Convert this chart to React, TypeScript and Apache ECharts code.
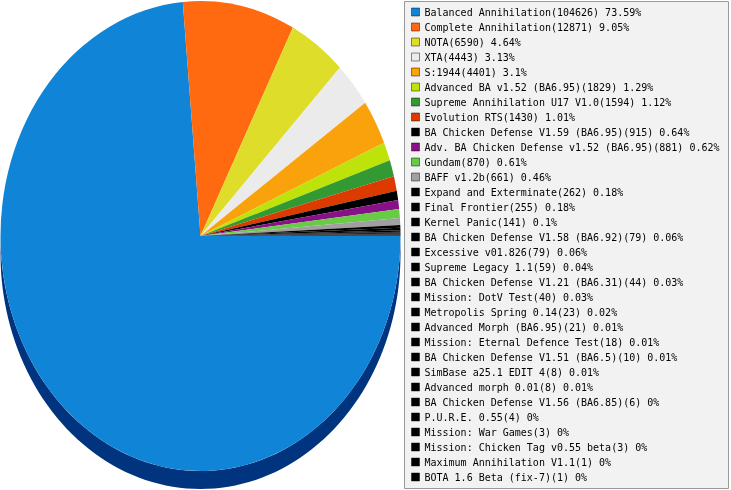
import React, { useEffect, useRef } from "react";
import * as echarts from "echarts";

const names = [
  "Balanced Annihilation",
  "Complete Annihilation",
  "NOTA",
  "XTA",
  "S:1944",
  "Advanced BA v1.52 (BA6.95)",
  "Supreme Annihilation U17 V1.0",
  "Evolution RTS",
  "BA Chicken Defense V1.59 (BA6.95)",
  "Adv. BA Chicken Defense v1.52 (BA6.95)",
  "Gundam",
  "BAFF v1.2b",
  "Expand and Exterminate",
  "Final Frontier",
  "Kernel Panic",
  "BA Chicken Defense V1.58 (BA6.92)",
  "Excessive v01.826",
  "Supreme Legacy 1.1",
  "BA Chicken Defense V1.21 (BA6.31)",
  "Mission: DotV Test",
  "Metropolis Spring 0.14",
  "Advanced Morph (BA6.95)",
  "Mission: Eternal Defence Test",
  "BA Chicken Defense V1.51 (BA6.5)",
  "SimBase a25.1 EDIT 4",
  "Advanced morph 0.01",
  "BA Chicken Defense V1.56 (BA6.85)",
  "P.U.R.E. 0.55",
  "Mission: War Games",
  "Mission: Chicken Tag v0.55 beta",
  "Maximum Annihilation V1.1",
  "BOTA 1.6 Beta (fix-7)",
];

const values = [
  104626, 12871, 6590, 4443, 4401, 1829, 1594, 1430, 915, 881, 870, 661, 262,
  255, 141, 79, 79, 59, 44, 40, 23, 21, 18, 10, 8, 8, 6, 4, 3, 3, 1, 1,
];

const pctLabels = [
  "73.59", "9.05", "4.64", "3.13", "3.1", "1.29", "1.12", "1.01", "0.64",
  "0.62", "0.61", "0.46", "0.18", "0.18", "0.1", "0.06", "0.06", "0.04",
  "0.03", "0.03", "0.02", "0.01", "0.01", "0.01", "0.01", "0.01", "0", "0",
  "0", "0", "0", "0",
];

const colors = [
  "#1084d6", "#ff6a11", "#dddd2a", "#ebebeb", "#f9a20b", "#bde30a",
  "#339933", "#dd3a00", "#000000", "#881188", "#66cc44", "#a0a0a0",
  "#000000", "#000000", "#000000", "#000000", "#000000", "#000000",
  "#000000", "#000000", "#000000", "#000000", "#000000", "#000000",
  "#000000", "#000000", "#000000", "#000000", "#000000", "#000000",
  "#000000", "#000000",
];

const sideColors = ["#00347f"];

const CX = 200.5;
const CY = 236;
const RX = 200;
const RY = 235;
const DEPTH = 18;

export default function App() {
  const ref = useRef<HTMLDivElement>(null);

  useEffect(() => {
    const chart = echarts.init(ref.current!, null, { renderer: "svg" });
    const total = values.reduce((a, b) => a + b, 0);
    const starts: number[] = [];
    let acc = 0;
    values.forEach((v) => {
      starts.push(acc);
      acc += v;
    });

    const series = names.map((name, i) => ({
      type: "custom",
      name,
      coordinateSystem: "none",
      itemStyle: { color: colors[i] },
      data: [[values[i]]],
      renderItem: (params: any, api: any) => {
        const v = api.value(0);
        const a0 = (starts[i] / total) * Math.PI * 2;
        const a1 = ((starts[i] + v) / total) * Math.PI * 2;
        const fill = api.visual("color");
        const children: any[] = [];
        if (a0 < Math.PI) {
          const s = Math.max(a0, 0);
          const e = Math.min(a1, Math.PI);
          const N = 90;
          const top: number[][] = [];
          const bottom: number[][] = [];
          for (let k = 0; k <= N; k++) {
            const t = s + ((e - s) * k) / N;
            const px = CX + RX * Math.cos(t);
            const py = CY + RY * Math.sin(t);
            top.push([px, py]);
            bottom.push([px, py + DEPTH]);
          }
          children.push({
            type: "polygon",
            z2: 1,
            shape: { points: top.concat(bottom.reverse()) },
            style: {
              fill: sideColors[i] || echarts.color.lift(fill, -0.5),
            },
          });
        }
        children.push({
          type: "sector",
          z2: 2,
          x: CX,
          y: CY,
          scaleX: 1,
          scaleY: RY / RX,
          shape: {
            cx: 0,
            cy: 0,
            r: RX,
            r0: 0,
            startAngle: a0,
            endAngle: a1,
            clockwise: true,
          },
          style: { fill },
        });
        return { type: "group", children };
      },
    }));

    chart.setOption({
      animation: false,
      graphic: [
        {
          type: "rect",
          z: 0,
          shape: { x: 404.5, y: 1.5, width: 324, height: 487 },
          style: { fill: "#f2f2f2", stroke: "#999999", lineWidth: 1 },
        },
      ],
      legend: {
        orient: "vertical",
        left: 404,
        top: 1,
        padding: [5, 10, 6, 7],
        itemGap: 3,
        itemWidth: 8,
        itemHeight: 8,
        itemTextGap: 4,
        icon: "rect",
        selectedMode: false,
        data: names,
        itemStyle: { borderColor: "rgba(0,0,0,0.45)", borderWidth: 1 },
        textStyle: {
          fontFamily: "DejaVu Sans Mono",
          fontSize: 10,
          lineHeight: 12,
          color: "#000000",
        },
        formatter: (name: string) => {
          const i = names.indexOf(name);
          return `${name}(${values[i]}) ${pctLabels[i]}%`;
        },
      },
      series,
    });

    return () => chart.dispose();
  }, []);

  return (
    <div
      ref={ref}
      style={{ position: "fixed", left: 0, top: 0, width: 731, height: 490 }}
    />
  );
}
